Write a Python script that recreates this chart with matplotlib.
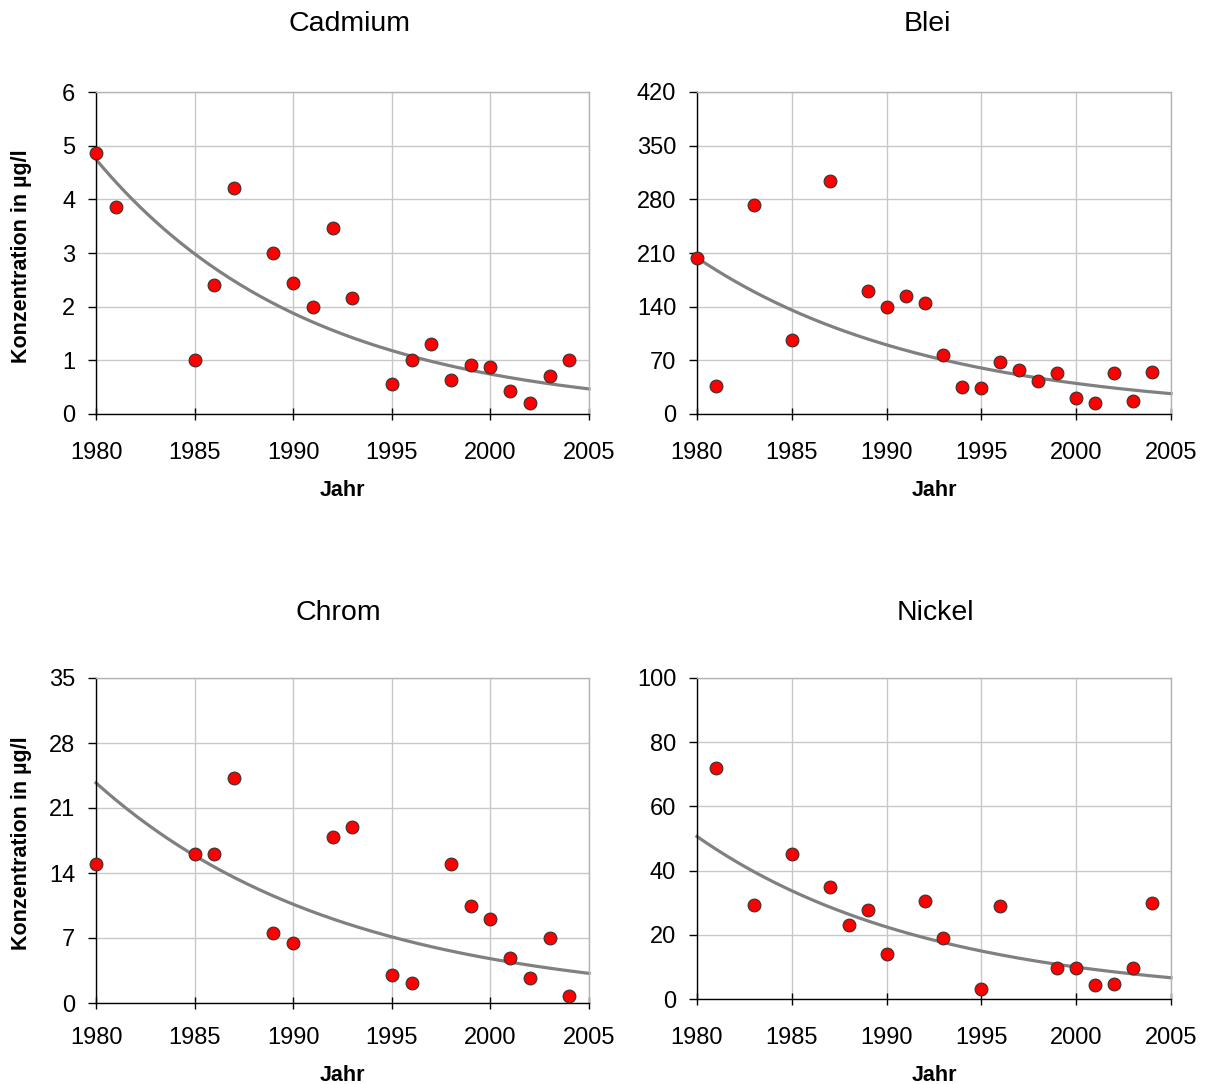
import numpy as np
import matplotlib
matplotlib.use("Agg")
import matplotlib.pyplot as plt

plt.rcParams['font.family'] = ['Liberation Sans', 'DejaVu Sans']

# ---- data ----
cd_years = [1980, 1981, 1985, 1986, 1987, 1989, 1990, 1991, 1992, 1993,
            1995, 1996, 1997, 1998, 1999, 2000, 2001, 2002, 2003, 2004]
cd_vals = [4.87, 3.85, 1.0, 2.4, 4.22, 3.0, 2.45, 2.0, 3.47, 2.16,
           0.55, 1.0, 1.3, 0.64, 0.92, 0.88, 0.43, 0.21, 0.71, 1.0]

pb_years = [1980, 1981, 1983, 1985, 1987, 1989, 1990, 1991, 1992, 1993, 1994,
            1995, 1996, 1997, 1998, 1999, 2000, 2001, 2002, 2003, 2004]
pb_vals = [203, 36, 272, 96, 304, 161, 139, 154, 145, 77, 35,
           34, 67.5, 58, 42.5, 54, 21, 15, 54, 17, 54.5]

cr_years = [1980, 1985, 1986, 1987, 1989, 1990, 1992, 1993, 1995, 1996,
            1998, 1999, 2000, 2001, 2002, 2003, 2004]
cr_vals = [15.0, 16.0, 16.0, 24.2, 7.5, 6.5, 17.9, 19.0, 3.0, 2.2,
           15.0, 10.4, 9.0, 4.8, 2.7, 7.0, 0.8]

ni_years = [1981, 1983, 1985, 1987, 1988, 1989, 1990, 1992, 1993, 1995,
            1996, 1999, 2000, 2001, 2002, 2003, 2004]
ni_vals = [72, 29.4, 45.2, 34.9, 23, 27.8, 14.1, 30.6, 19, 3.0,
           29, 9.6, 9.6, 4.4, 4.6, 9.8, 29.8]

titles = ["Cadmium", "Blei", "Chrom", "Nickel"]
y_ticks = [[0, 1, 2, 3, 4, 5, 6],
           [0, 70, 140, 210, 280, 350, 420],
           [0, 7, 14, 21, 28, 35],
           [0, 20, 40, 60, 80, 100]]
x_ticks = [1980, 1985, 1990, 1995, 2000, 2005]
x_label = "Jahr"
y_label = "Konzentration in µg/l"

series = [(cd_years, cd_vals), (pb_years, pb_vals),
          (cr_years, cr_vals), (ni_years, ni_vals)]

W, H = 1208, 1084
fig = plt.figure(figsize=(W / 100, H / 100), dpi=100)

# layout in pixels: axes box (left, top, right, bottom), title centre x, pads
boxes = [(96, 92, 589, 414), (697, 92, 1171, 414),
         (96, 678, 589, 1003), (697, 678, 1171, 999)]
title_cx = [349, 927, 338, 935]
title_pad = [44, 44, 42, 42]
xtick_pad = [16.5, 16.5, 13.5, 16.5]

for i, (box, (xs, ys)) in enumerate(zip(boxes, series)):
    l, t, r, b = box
    ax = fig.add_axes([l / W, 1 - b / H, (r - l) / W, (b - t) / H])
    ax.set_xlim(1980, 2005)
    ax.set_ylim(y_ticks[i][0], y_ticks[i][-1])
    ax.set_xticks(x_ticks)
    ax.set_yticks(y_ticks[i])
    ax.grid(True, color='#c8c8c8', linewidth=1.0)
    ax.set_axisbelow(True)
    for s in ['top', 'right']:
        ax.spines[s].set_color('#b4b4b4')
        ax.spines[s].set_linewidth(1.0)
    for s in ['left', 'bottom']:
        ax.spines[s].set_color('black')
        ax.spines[s].set_linewidth(1.0)
    ax.tick_params(axis='x', direction='inout', length=8, width=1,
                   labelsize=17, pad=xtick_pad[i])
    ax.tick_params(axis='y', direction='out', length=6, width=1,
                   labelsize=17, pad=9)

    # exponential trend (least squares on log values)
    k, c = np.polyfit(np.array(xs, float), np.log(np.array(ys, float)), 1)
    xt = np.linspace(1980, 2005, 200)
    ax.plot(xt, np.exp(c + k * xt), color='#808080', linewidth=2.3,
            zorder=2, clip_on=False)

    ax.plot(xs, ys, linestyle='none', marker='o', markersize=9.2,
            markerfacecolor='#ff0000', markeredgecolor='#333333',
            markeredgewidth=0.8, zorder=3, clip_on=False)

    ax.set_title(titles[i], fontsize=20.5, pad=title_pad[i],
                 x=(title_cx[i] - l) / (r - l))
    ax.set_xlabel(x_label, fontsize=15.5, fontweight='bold', labelpad=11.5)
    if i % 2 == 0:
        fig.text(22 / W, 1 - ((t + b) / 2 + 3) / H, y_label, rotation=90,
                 fontsize=15.5, fontweight='bold', ha='center', va='center')

fig.savefig("out.png", dpi=100, facecolor='white')
